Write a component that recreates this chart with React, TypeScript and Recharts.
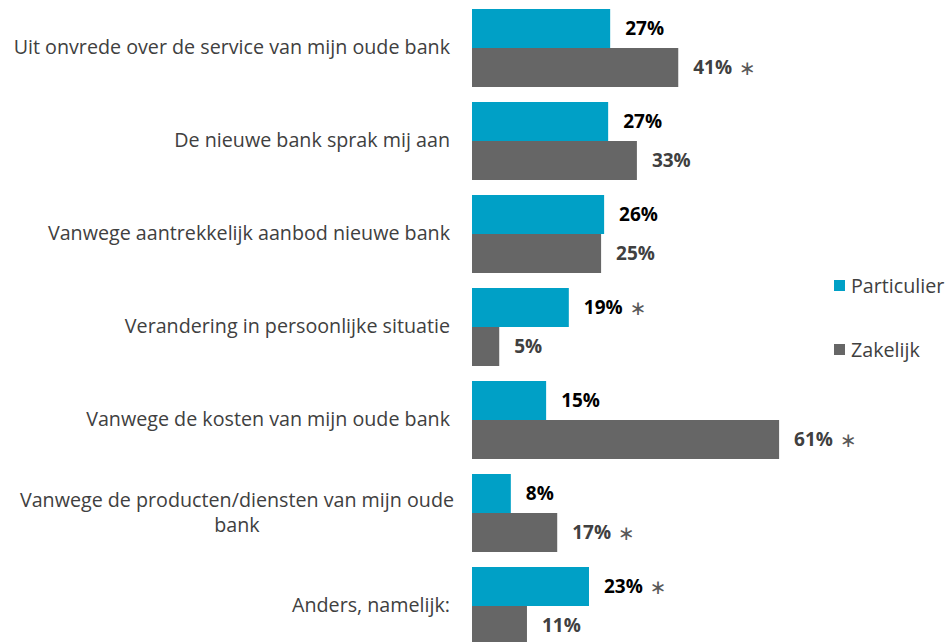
import React from 'react';
import { BarChart, Bar, XAxis, YAxis, LabelList } from 'recharts';

const categories = [
  'Uit onvrede over de service van mijn oude bank',
  'De nieuwe bank sprak mij aan',
  'Vanwege aantrekkelijk aanbod nieuwe bank',
  'Verandering in persoonlijke situatie',
  'Vanwege de kosten van mijn oude bank',
  'Vanwege de producten/diensten van mijn oude\nbank',
  'Anders, namelijk:',
];
const particulier = [27.4, 27.0, 26.2, 19.2, 14.7, 7.7, 23.2];
const zakelijk = [40.9, 32.7, 25.6, 5.4, 60.9, 16.9, 10.9];
const particulierLabels = ['27%', '27%', '26%', '19%', '15%', '8%', '23%'];
const zakelijkLabels = ['41%', '33%', '25%', '5%', '61%', '17%', '11%'];
const particulierStars = [false, false, false, true, false, false, true];
const zakelijkStars = [true, false, false, false, true, true, false];
const seriesNames = ['Particulier', 'Zakelijk'];
const colors = ['#00A0C6', '#666666'];

const FONT = '"Open Sans", sans-serif';
const CAT_SIZE = 19.7;
const VAL_SIZE = 19;

const data = categories.map((name, i) => ({
  name,
  p: particulier[i],
  z: zakelijk[i],
  pLabel: particulierLabels[i],
  zLabel: zakelijkLabels[i],
}));

let ctx: CanvasRenderingContext2D | null = null;
function measure(text: string, font: string): number {
  try {
    if (!ctx) ctx = document.createElement('canvas').getContext('2d');
    if (!ctx) return 0;
    ctx.font = font;
    return ctx.measureText(text).width;
  } catch (e) {
    return 0;
  }
}

const CategoryTick = (props: any) => {
  const { x, y, payload } = props;
  const lines = String(payload.value).split('\n');
  if (lines.length === 1) {
    return (
      <text x={x} y={y} dy="0.35em" textAnchor="end" fill="#404040" fontSize={CAT_SIZE} fontFamily={FONT}>
        {lines[0]}
      </text>
    );
  }
  const w = measure(lines[0], `${CAT_SIZE}px ${FONT}`);
  const cx = x + 4 - w / 2;
  const lh = 25;
  const start = y - ((lines.length - 1) * lh) / 2;
  return (
    <text textAnchor="middle" fill="#404040" fontSize={CAT_SIZE} fontFamily={FONT}>
      {lines.map((l, i) => (
        <tspan key={i} x={cx} y={start + i * lh} dy="0.35em">{l}</tspan>
      ))}
    </text>
  );
};

const makeLabel = (stars: boolean[], color: string) => (props: any) => {
  const vb = props.viewBox || props;
  const x = Number(vb.x) + Number(vb.width) + 15;
  const y = Number(vb.y) + Number(vb.height) / 2;
  const idx = props.index;
  const txt = String(props.value);
  const w = measure(txt, `bold ${VAL_SIZE}px ${FONT}`);
  return (
    <g>
      <text x={x} y={y} dy="0.36em" fill={color} fontWeight="bold" fontSize={VAL_SIZE} fontFamily={FONT}>
        {txt}
      </text>
      {stars[idx] ? (
        <text x={x + w + 7} y={y} dy="0.36em" fill="#595959" fontSize={20} fontFamily="DejaVu Sans">
          {'\u2217'}
        </text>
      ) : null}
    </g>
  );
};

const LegendBox = () => (
  <div style={{ position: 'absolute', left: 834, top: 273, fontFamily: FONT, fontSize: CAT_SIZE, color: '#404040' }}>
    {seriesNames.map((n, i) => (
      <div
        key={n}
        style={{ display: 'flex', alignItems: 'center', height: 24, marginBottom: i === 0 ? 40 : 0, whiteSpace: 'nowrap' }}
      >
        <span style={{ display: 'inline-block', width: 11, height: 11, background: colors[i], marginRight: 6 }} />
        {n}
      </div>
    ))}
  </div>
);

export default function App() {
  return (
    <div style={{ position: 'absolute', left: 0, top: 0, width: 947, height: 660, background: '#fff' }}>
      <BarChart
        width={947}
        height={660}
        data={data}
        layout="vertical"
        margin={{ top: 1, right: 122, bottom: 8, left: 0 }}
        barCategoryGap={8}
        barGap={0}
      >
        <XAxis type="number" domain={[0, 70]} hide />
        <YAxis
          type="category"
          dataKey="name"
          width={472}
          axisLine={false}
          tickLine={false}
          tickSize={0}
          tickMargin={22}
          tick={<CategoryTick />}
          interval={0}
        />
        <Bar dataKey="p" name={seriesNames[0]} fill={colors[0]} isAnimationActive={false}>
          <LabelList dataKey="pLabel" content={makeLabel(particulierStars, '#000000')} />
        </Bar>
        <Bar dataKey="z" name={seriesNames[1]} fill={colors[1]} isAnimationActive={false}>
          <LabelList dataKey="zLabel" content={makeLabel(zakelijkStars, '#404040')} />
        </Bar>
      </BarChart>
      <LegendBox />
    </div>
  );
}
